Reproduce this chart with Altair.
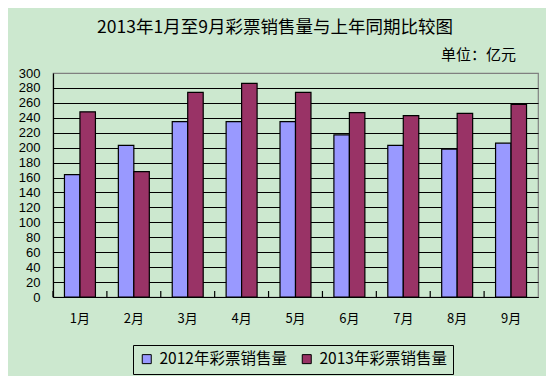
import altair as alt
import pandas as pd

months = ["1月", "2月", "3月", "4月", "5月", "6月", "7月", "8月", "9月"]
sales_2012 = [164, 203, 235, 235, 235, 217, 203, 198, 206]
sales_2013 = [248, 168, 274, 286, 274, 247, 243, 246, 258]
series = ["2012年彩票销售量", "2013年彩票销售量"]
colors = ["#9999FF", "#993366"]
y_ticks = list(range(0, 301, 20))
title_text = "2013年1月至9月彩票销售量与上年同期比较图"
unit_text = "单位：亿元"

rows = []
for i, m in enumerate(months):
    rows.append({"month": m, "series": series[0], "value": sales_2012[i]})
    rows.append({"month": m, "series": series[1], "value": sales_2013[i]})
df = pd.DataFrame(rows)

FONT = "Noto Sans CJK SC"
NUMFONT = "Liberation Sans"

x_scale = alt.Scale(domain=months, paddingInner=0, paddingOuter=0)

bars = alt.Chart(df).mark_bar(stroke="black", strokeWidth=1.2).encode(
    x=alt.X("month:N", scale=x_scale, sort=months,
            axis=alt.Axis(title=None, labelAngle=0, ticks=False, labelFont=FONT,
                          labelFontSize=13, labelColor="black", labelPadding=15,
                          domainColor="black", domainWidth=1.2, grid=False)),
    xOffset=alt.XOffset("series:N", scale=alt.Scale(domain=series, paddingInner=0, paddingOuter=0.74)),
    y=alt.Y("value:Q", scale=alt.Scale(domain=[0, 300], nice=False),
            axis=alt.Axis(title=None, values=y_ticks, ticks=False, labelFont=NUMFONT,
                          labelFontSize=13, labelColor="black", labelPadding=13,
                          domainColor="black", domainWidth=1.2,
                          gridColor={"condition": {"test": "datum.value == 300", "value": "#808080"}, "value": "black"},
                          gridWidth=1.2)),
    color=alt.Color("series:N", scale=alt.Scale(domain=series, range=colors),
                    legend=alt.Legend(title=None, orient="none", legendX=80, legendY=272,
                                      direction="horizontal", symbolType="square",
                                      symbolSize=81, symbolStrokeColor="black",
                                      symbolStrokeWidth=1, labelFont=FONT, labelFontSize=15.5,
                                      labelColor="black", strokeColor="black", padding=6,
                                      columnPadding=12, labelOffset=5, fillColor="#CCE8CF")),
)

ticks_df = pd.DataFrame({"month": months})
tick_rules = alt.Chart(ticks_df).mark_rule(color="black", strokeWidth=1.2).encode(
    x=alt.X("month:N", bandPosition=0, sort=months),
    y=alt.value(224), y2=alt.value(218),
)

title = alt.Chart(alt.Data(values=[{"t": title_text}])).mark_text(
    font=FONT, fontSize=17.5, color="black", align="center", baseline="middle"
).encode(text="t:N", x=alt.value(222), y=alt.value(-45))

unit = alt.Chart(alt.Data(values=[{"t": unit_text}])).mark_text(
    font=FONT, fontSize=15, color="black", align="right", baseline="middle"
).encode(text="t:N", x=alt.value(463), y=alt.value(-18))

chart = alt.layer(bars, tick_rules, title, unit).properties(
    width=485, height=224,
    autosize=alt.AutoSizeParams(type="none"),
    padding={"left": 45, "top": 65, "right": 8, "bottom": 79},
    background="#CCE8CF",
).configure_view(stroke="#808080", strokeWidth=1.2)

chart.save("out.html", embed_options={"renderer": "svg", "actions": False})
